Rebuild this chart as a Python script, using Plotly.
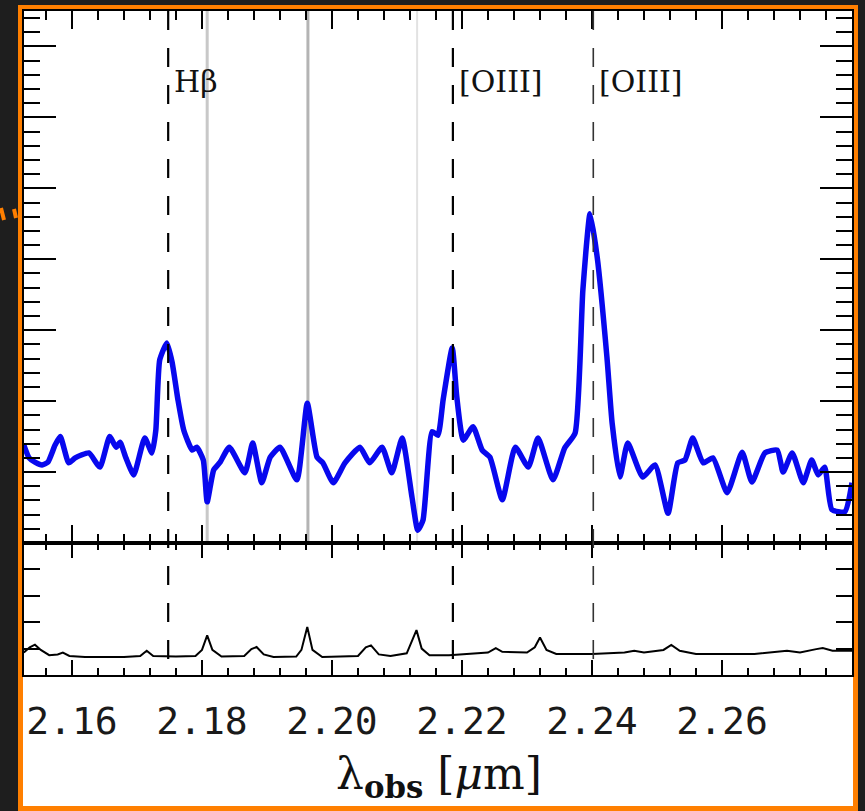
import plotly.graph_objects as go

# ---------------- data ----------------
LAMBDA = [2.1526, 2.1534, 2.1543, 2.1554, 2.1563, 2.1574, 2.1582, 2.1595, 2.1605, 2.1626,
          2.1643, 2.1658, 2.1668, 2.1674, 2.1683, 2.1695, 2.1712, 2.1723, 2.1729, 2.1735,
          2.1746, 2.1754, 2.1763, 2.1772, 2.1785, 2.1792, 2.1802, 2.1808, 2.1818, 2.1828,
          2.1842, 2.1866, 2.1878, 2.1892, 2.1905, 2.1920, 2.1946, 2.1962, 2.1977, 2.1986,
          2.2002, 2.2020, 2.2043, 2.2058, 2.2077, 2.2092, 2.2108, 2.2123, 2.2132, 2.2140,
          2.2154, 2.2163, 2.2171, 2.2185, 2.2192, 2.2202, 2.2217, 2.2231, 2.2243, 2.2262,
          2.2282, 2.2302, 2.2317, 2.2340, 2.2358, 2.2374, 2.2386, 2.2397, 2.2408, 2.2423,
          2.2431, 2.2443, 2.2455, 2.2478, 2.2497, 2.2517, 2.2532, 2.2543, 2.2555, 2.2571,
          2.2586, 2.2608, 2.2631, 2.2646, 2.2666, 2.2685, 2.2694, 2.2708, 2.2725, 2.2738,
          2.2748, 2.2758, 2.2769, 2.2789, 2.2800]
FLUX = [1.38, 1.20, 1.14, 1.10, 1.14, 1.38, 1.50, 1.13, 1.20, 1.27,
        1.07, 1.50, 1.35, 1.42, 1.20, 0.96, 1.48, 1.27, 1.59, 2.58,
        2.82, 2.55, 2.02, 1.59, 1.31, 1.35, 1.17, 0.58, 1.03, 1.14,
        1.35, 0.99, 1.41, 0.85, 1.21, 1.35, 0.89, 1.97, 1.21, 1.13,
        0.85, 1.13, 1.35, 1.13, 1.35, 0.99, 1.48, 0.65, 0.18, 0.32,
        1.57, 1.52, 2.02, 2.75, 2.06, 1.45, 1.64, 1.31, 1.21, 0.61,
        1.35, 1.07, 1.48, 0.89, 1.34, 1.55, 3.57, 4.64, 4.03, 2.62,
        1.69, 0.93, 1.41, 0.93, 1.10, 0.42, 1.13, 1.17, 1.48, 1.13,
        1.20, 0.71, 1.28, 0.86, 1.27, 1.31, 1.00, 1.27, 0.85, 1.17,
        0.96, 1.07, 0.47, 0.44, 0.85]

SKY_LAMBDA = [2.1526, 2.1535, 2.1543, 2.1552, 2.1565, 2.1578, 2.1586, 2.1596, 2.1620, 2.1680,
              2.1705, 2.1715, 2.1725, 2.1760, 2.1790, 2.1800, 2.1808, 2.1816, 2.1830, 2.1865,
              2.1876, 2.1884, 2.1895, 2.1910, 2.1945, 2.1953, 2.1962, 2.1970, 2.1985, 2.2040,
              2.2052, 2.2060, 2.2072, 2.2090, 2.2115, 2.2124, 2.2130, 2.2138, 2.2150, 2.2180,
              2.2200, 2.2240, 2.2252, 2.2262, 2.2300, 2.2312, 2.2320, 2.2330, 2.2345, 2.2400,
              2.2450, 2.2465, 2.2480, 2.2510, 2.2522, 2.2535, 2.2560, 2.2650, 2.2700, 2.2720,
              2.2745, 2.2755, 2.2770, 2.2800]
SKY_FLUX = [0.85, 1.05, 1.15, 0.95, 0.75, 0.78, 0.85, 0.72, 0.68, 0.68,
            0.72, 0.92, 0.72, 0.70, 0.72, 0.95, 1.50, 0.95, 0.70, 0.72,
            0.98, 1.06, 0.78, 0.68, 0.70, 0.95, 1.82, 0.95, 0.68, 0.72,
            1.05, 1.12, 0.78, 0.72, 0.82, 1.35, 1.70, 1.00, 0.75, 0.75,
            0.78, 0.85, 1.02, 0.88, 0.85, 1.05, 1.42, 0.95, 0.80, 0.80,
            0.85, 0.92, 0.85, 0.95, 1.14, 0.92, 0.80, 0.80, 0.92, 0.85,
            0.98, 1.02, 0.92, 0.92]

EMISSION_LINES = [2.1748, 2.2186, 2.2402]
EMISSION_LABELS = ["Hβ", "[OIII]", "[OIII]"]
SKY_LINES = [2.1808, 2.1963, 2.2131]

X_TICKS = [2.16, 2.18, 2.20, 2.22, 2.24, 2.26]
X_TICK_LABELS = ["2.16", "2.18", "2.20", "2.22", "2.24", "2.26"]
X_RANGE = [2.15262, 2.2800]
TOP_Y_RANGE = [0, 7.5]
BOTTOM_Y_RANGE = [0, 5]

# ---------------- layout helpers ----------------
W, H = 865, 811


def pxx(p):
    return p / W


def pxy(p):
    return 1 - p / H


x_dom = [pxx(24), pxx(852)]
top_dom = [pxy(543), pxy(11)]
bot_dom = [pxy(675), pxy(543)]

fig = go.Figure()
fig.add_trace(go.Scatter(x=LAMBDA, y=FLUX, xaxis="x", yaxis="y", mode="lines",
                         line=dict(color="#0808ee", width=5.5, shape="spline", smoothing=0.5),
                         hoverinfo="skip"))
fig.add_trace(go.Scatter(x=SKY_LAMBDA, y=SKY_FLUX, xaxis="x2", yaxis="y2", mode="lines",
                         line=dict(color="black", width=2), hoverinfo="skip"))

common = dict(showline=True, linecolor="black", linewidth=2, mirror="allticks",
              ticks="inside", tickcolor="black", tickwidth=2, showgrid=False, zeroline=False)

fig.update_layout(
    width=W, height=H,
    margin=dict(l=0, r=0, t=0, b=0),
    paper_bgcolor="#1e1e1e",
    plot_bgcolor="white",
    showlegend=False,
    xaxis=dict(domain=x_dom, range=X_RANGE, anchor="y", tickmode="array", tickvals=X_TICKS,
               showticklabels=False, ticklen=18,
               minor=dict(ticks="inside", ticklen=9, tickwidth=1.5, tickcolor="black",
                          tick0=2.16, dtick=0.004), **common),
    yaxis=dict(domain=top_dom, range=TOP_Y_RANGE, anchor="x", dtick=1, tick0=0,
               showticklabels=False, ticklen=32,
               minor=dict(ticks="inside", ticklen=16, tickwidth=1.5, tickcolor="black",
                          tick0=0, dtick=0.2), **common),
    xaxis2=dict(domain=x_dom, range=X_RANGE, anchor="y2", matches="x", tickmode="array",
                tickvals=X_TICKS, ticktext=X_TICK_LABELS, ticklen=15,
                ticklabelstandoff=11,
                tickfont=dict(family="DejaVu Sans Mono", size=38, color="#1a1a1a"),
                minor=dict(ticks="inside", ticklen=7, tickwidth=1.5, tickcolor="black",
                           tick0=2.16, dtick=0.004), **common),
    yaxis2=dict(domain=bot_dom, range=BOTTOM_Y_RANGE, anchor="x2", dtick=1, tick0=0,
                showticklabels=False, ticklen=16, **common),
)

shapes = []
# white page with orange frame
shapes.append(dict(type="rect", xref="paper", yref="paper",
                   x0=pxx(20.5), x1=pxx(855.5), y0=pxy(808.5), y1=pxy(7.5),
                   line=dict(color="#ff7f00", width=5), fillcolor="white", layer="below"))
# orange dash fragments at the far left
shapes.append(dict(type="line", xref="paper", yref="paper", x0=pxx(1), y0=pxy(208),
                   x1=pxx(4), y1=pxy(220), line=dict(color="#ff7f00", width=4)))
shapes.append(dict(type="line", xref="paper", yref="paper", x0=pxx(14), y0=pxy(209),
                   x1=pxx(16), y1=pxy(218), line=dict(color="#ff7f00", width=4)))
# sky line markers (grey)
sky_styles = [("#c8c8c8", 3), ("#b4b4b4", 3), ("#e2e2e2", 2)]
for v, (c, w) in zip(SKY_LINES, sky_styles):
    shapes.append(dict(type="line", xref="x", yref="y domain", x0=v, x1=v, y0=0, y1=1,
                       line=dict(color=c, width=w), layer="below"))
# emission line markers (dashed)
dash_styles = [("black", 2.2), ("black", 2.2), ("#333333", 1.6)]
for v, (c, w) in zip(EMISSION_LINES, dash_styles):
    shapes.append(dict(type="line", xref="x", yref="paper", x0=v, x1=v,
                       y0=pxy(11), y1=pxy(675),
                       line=dict(color=c, width=w, dash="19px,18px")))
fig.update_layout(shapes=shapes)

annotations = []
for v, t in zip(EMISSION_LINES, EMISSION_LABELS):
    annotations.append(dict(x=v, y=6.5, xref="x", yref="y", text=t, showarrow=False,
                            xanchor="left", yanchor="middle", xshift=4,
                            font=dict(family="DejaVu Serif", size=30, color="#111111")))
annotations.append(dict(x=pxx(439), y=pxy(776), xref="paper", yref="paper",
                        text="λ<sub><b>obs</b></sub> [<i>μ</i>m]", showarrow=False,
                        xanchor="center", yanchor="middle",
                        font=dict(family="DejaVu Serif", size=44, color="#111111")))
fig.update_layout(annotations=annotations)

fig.write_html("out.html", config={"displayModeBar": False},
               post_script="document.body.style.margin='0';document.body.style.overflow='hidden';")
